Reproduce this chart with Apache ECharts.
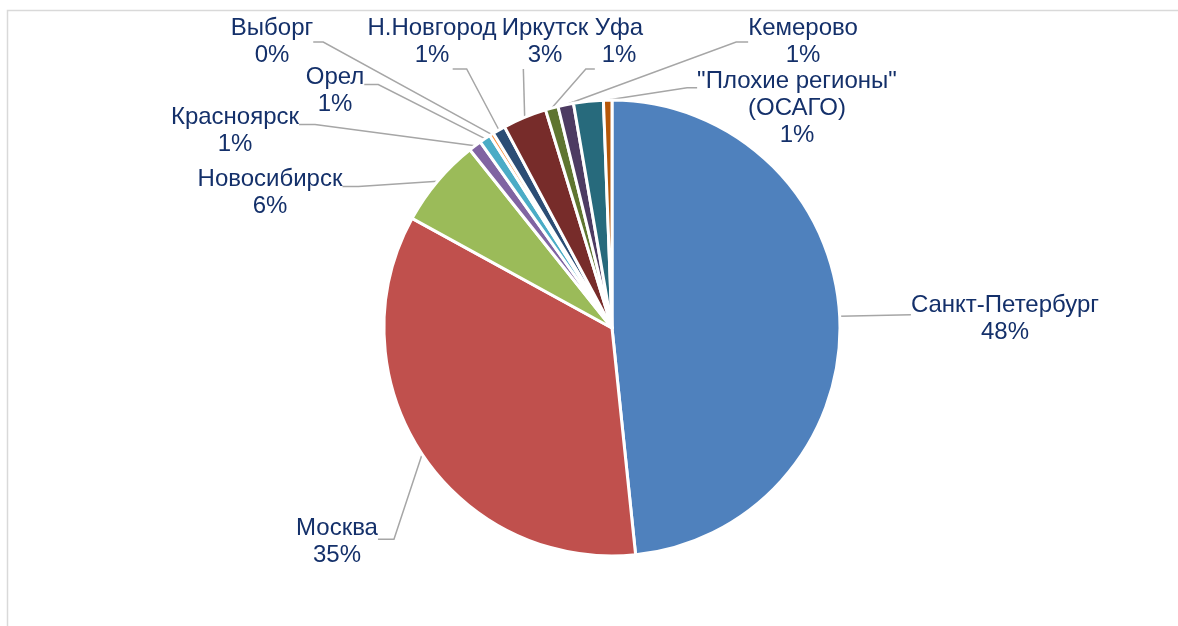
<!DOCTYPE html>
<html>
<head>
<meta charset="utf-8">
<script src="https://cdn.jsdelivr.net/npm/echarts@6/dist/echarts.min.js"></script>
<style>
html,body{margin:0;padding:0;background:#fff;}
#main{width:1178px;height:626px;}
</style>
</head>
<body>
<div id="main"></div>
<script>
// категории и доли (%), по часовой стрелке от 12 часов
var names = ['Санкт-Петербург','Москва','Новосибирск','Красноярск','Орел','Выборг','Н.Новгород','Иркутск','Уфа','Кемерово','Прочие','"Плохие регионы"\n(ОСАГО)'];
var values = [48.3, 34.6, 6.3, 0.9, 0.8, 0.3, 0.9, 3.1, 0.9, 1.1, 2.1, 0.6];
var showLabel = [true,true,true,true,true,true,true,true,true,true,false,true];
var colors = ['#4f81bd','#c0504d','#9bbb59','#8064a2','#4bacc6','#f79646','#2c4d75','#772c2a','#5f7530','#4d3b62','#276a7c','#b65708'];

// где стоят подписи (центр текстового блока)
var labelPos = [
	[1005,319],[337,542],[270,193],[235,131],[335,91],[272,42],
	[432,42],[545,42],[619,42],[803,42],[0,0],[797,108]
];
// точка крепления выноски: доля ширины, доля высоты, горизонтальный отвод
var anchor = [
	[0,0.42,0],[1,0.45,16],[1,0.38,16],[1,0.38,16],[1,0.38,14],[1,0.5,10],
	[0.66,1,14],[0.25,1,0],[0,1,-9],[0,0.5,-12],[0,0,0],[0,0.25,-10]
];

var total = 0;
for(var i=0;i<values.length;i++){ total += values[i]; }

var data = [];
for(var i=0;i<names.length;i++){
	data.push({
		name: names[i],
		value: values[i],
		itemStyle: {color: colors[i]},
		label: {show: showLabel[i]},
		labelLine: {show: showLabel[i]}
	});
}

var myChart = echarts.init(document.getElementById('main'));

var option = {
	animation: false,
	graphic: [{
		type: 'rect',
		shape: {x: 7.5, y: 10.5, width: 1200, height: 700},
		style: {fill: 'none', stroke: '#d9d9d9', lineWidth: 1.5},
		silent: true
	}],
	series: [{
		type: 'pie',
		center: [612, 328],
		radius: [0, 228],
		startAngle: 90,
		clockwise: true,
		avoidLabelOverlap: false,
		data: data,
		itemStyle: {borderColor: '#fff', borderWidth: 3},
		label: {
			show: true,
			position: 'outside',
			fontFamily: 'Liberation Sans, Arial, sans-serif',
			fontSize: 24,
			lineHeight: 27,
			color: '#14306a',
			align: 'center',
			formatter: function (p) {
				return p.name + '\n' + Math.round(p.value / total * 100) + '%';
			}
		},
		labelLine: {
			show: true,
			length: 20,
			length2: 20,
			lineStyle: {color: '#a6a6a6', width: 1.5}
		},
		labelLayout: function (params) {
			var i = params.dataIndex;
			var pos = labelPos[i];
			var w = params.labelRect.width, h = params.labelRect.height;
			var a = anchor[i];
			var ax = pos[0] - w / 2 + a[0] * w;
			var ay = pos[1] - h / 2 + a[1] * h;
			var res = {x: pos[0], y: pos[1], align: 'center', verticalAlign: 'middle'};
			if (params.labelLinePoints) {
				var p0 = params.labelLinePoints[0];
				res.labelLinePoints = [p0, [ax + a[2], ay], [ax, ay]];
			}
			return res;
		}
	}]
};

myChart.setOption(option);
</script>
</body>
</html>
